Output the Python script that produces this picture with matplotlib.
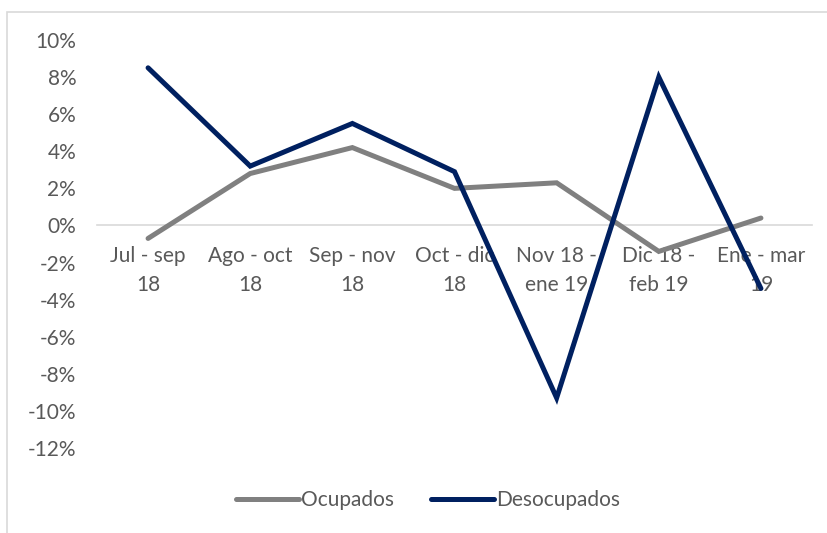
"""Variación trimestral de ocupados y desocupados."""

import matplotlib.pyplot as plt
from matplotlib.patches import Rectangle
from matplotlib.ticker import FuncFormatter

categories = [
    "Jul - sep\n18",
    "Ago - oct\n18",
    "Sep - nov\n18",
    "Oct - dic\n18",
    "Nov 18 -\nene 19",
    "Dic 18 -\nfeb 19",
    "Ene - mar\n19",
]
ocupados = [-0.7, 2.8, 4.2, 2.0, 2.3, -1.4, 0.4]
desocupados = [8.5, 3.2, 5.5, 2.9, -9.3, 8.0, -3.4]
y_ticks = [10, 8, 6, 4, 2, 0, -2, -4, -6, -8, -10, -12]

TEXT = "#595959"
plt.rcParams["font.family"] = ["Lato", "DejaVu Sans"]

fig = plt.figure(figsize=(8.27, 5.33), dpi=100)
ax = fig.add_axes([97 / 827, 1 - 448 / 533, 715 / 827, 408 / 533])

x = range(len(categories))
ax.plot(x, ocupados, color="#808080", lw=3.6, solid_capstyle="round",
        solid_joinstyle="miter", label="Ocupados", zorder=3)
ax.plot(x, desocupados, color="#002060", lw=3.6, solid_capstyle="round",
        solid_joinstyle="miter", label="Desocupados", zorder=4)

ax.set_xlim(-0.5, len(categories) - 0.5)
ax.set_ylim(-12, 10)
ax.set_yticks(y_ticks)
ax.yaxis.set_major_formatter(FuncFormatter(lambda v, _: f"{v:.0f}%"))
ax.set_xticks(list(x))
ax.set_xticklabels(categories)

for side in ("top", "right", "left"):
    ax.spines[side].set_visible(False)
ax.spines["bottom"].set_position(("data", 0))
ax.spines["bottom"].set_color("#d9d9d9")
ax.spines["bottom"].set_linewidth(1.2)
ax.tick_params(length=0, labelsize=15, labelcolor=TEXT)
ax.tick_params(axis="x", pad=15)
ax.tick_params(axis="y", pad=15)
for lbl in ax.get_xticklabels():
    lbl.set_linespacing(1.55)

fig.legend(loc="center", bbox_to_anchor=(428 / 827, 1 - 500 / 533), ncol=2,
           frameon=False, fontsize=15, labelcolor=TEXT, handlelength=3.0,
           handletextpad=0.1, columnspacing=1.8)

fig.patches.append(Rectangle((7 / 827, -0.05), 1.2, 1 - 12 / 533 + 0.05,
                             transform=fig.transFigure, fill=False,
                             edgecolor="#d9d9d9", lw=1.2))

fig.savefig("out.png", dpi=100)
